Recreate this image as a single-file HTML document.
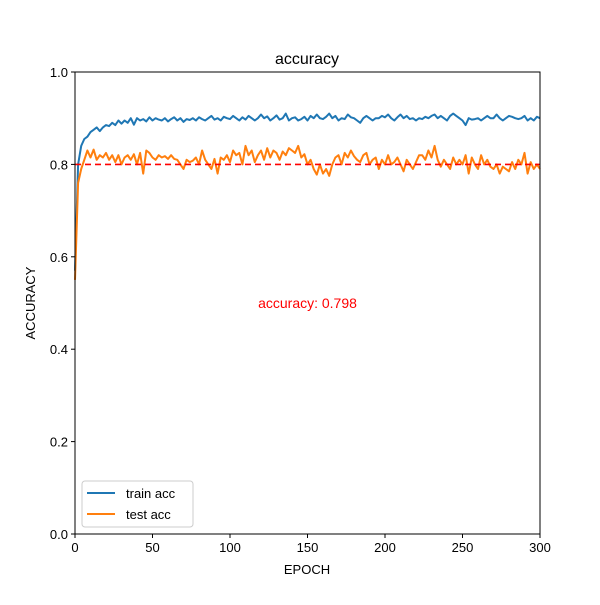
<!DOCTYPE html>
<html><head><meta charset="utf-8"><style>body{margin:0;background:#fff}svg text{font-family:"Liberation Sans","DejaVu Sans",sans-serif}</style></head>
<body>
<svg id="c" width="600" height="600"></svg>
<script>
const trainAcc=[0.57,0.80,0.84,0.855,0.86,0.87,0.875,0.88,0.872,0.88,0.885,0.883,0.89,0.885,0.895,0.888,0.895,0.89,0.9,0.886,0.9,0.895,0.898,0.893,0.902,0.895,0.9,0.897,0.895,0.9,0.893,0.898,0.902,0.895,0.9,0.892,0.898,0.896,0.9,0.895,0.902,0.898,0.895,0.9,0.905,0.897,0.9,0.895,0.903,0.9,0.898,0.905,0.9,0.895,0.902,0.897,0.905,0.9,0.895,0.9,0.908,0.9,0.904,0.895,0.9,0.906,0.897,0.9,0.91,0.895,0.9,0.902,0.895,0.898,0.903,0.895,0.905,0.9,0.908,0.9,0.898,0.903,0.91,0.9,0.905,0.895,0.9,0.898,0.908,0.902,0.9,0.895,0.89,0.9,0.905,0.9,0.895,0.9,0.9,0.905,0.902,0.908,0.9,0.895,0.902,0.908,0.9,0.905,0.898,0.9,0.895,0.9,0.898,0.903,0.9,0.905,0.908,0.9,0.905,0.9,0.895,0.905,0.91,0.905,0.9,0.895,0.885,0.9,0.897,0.898,0.9,0.895,0.9,0.905,0.9,0.9,0.908,0.9,0.895,0.9,0.905,0.903,0.9,0.898,0.9,0.905,0.895,0.9,0.895,0.903,0.9];
const testAcc=[0.55,0.76,0.79,0.81,0.83,0.815,0.832,0.81,0.82,0.815,0.825,0.81,0.82,0.805,0.82,0.8,0.815,0.82,0.81,0.822,0.8,0.825,0.78,0.83,0.825,0.815,0.81,0.82,0.815,0.818,0.812,0.82,0.812,0.81,0.8,0.79,0.81,0.805,0.808,0.815,0.8,0.83,0.81,0.8,0.79,0.812,0.78,0.815,0.81,0.82,0.805,0.83,0.82,0.825,0.8,0.84,0.82,0.83,0.805,0.82,0.83,0.81,0.835,0.815,0.83,0.825,0.81,0.828,0.82,0.835,0.83,0.825,0.84,0.815,0.822,0.8,0.81,0.79,0.778,0.8,0.78,0.79,0.775,0.8,0.815,0.82,0.8,0.825,0.815,0.83,0.818,0.81,0.805,0.82,0.825,0.8,0.81,0.815,0.79,0.81,0.8,0.82,0.8,0.805,0.815,0.8,0.785,0.81,0.8,0.79,0.805,0.82,0.82,0.81,0.83,0.815,0.84,0.81,0.795,0.81,0.8,0.79,0.815,0.8,0.81,0.8,0.82,0.78,0.815,0.8,0.79,0.82,0.8,0.81,0.795,0.79,0.8,0.78,0.795,0.79,0.785,0.805,0.79,0.81,0.8,0.825,0.78,0.805,0.79,0.8,0.79];
const xTicks=[0,50,100,150,200,250,300];
const yTicks=[0.0,0.2,0.4,0.6,0.8,1.0];
const refValue=0.8;
const accLabel="accuracy: 0.798";
const NS="http://www.w3.org/2000/svg",svg=document.getElementById('c');
const L=75,R=540,T=72,B=534;
const X=v=>L+(v/300)*(R-L), Y=v=>B-v*(B-T);
function el(t,a,txt){const e=document.createElementNS(NS,t);for(const k in a)e.setAttribute(k,a[k]);if(txt!==undefined)e.textContent=txt;svg.appendChild(e);return e;}
let e;
e=el('text',{x:307,y:64,'text-anchor':'middle','font-size':16},'accuracy');


xTicks.forEach(v=>{el('line',{x1:X(v),x2:X(v),y1:B,y2:B+4,stroke:'#000'});e=el('text',{x:X(v),y:B+18,'text-anchor':'middle','font-size':13},v);

});
yTicks.forEach(v=>{el('line',{x1:L-4,x2:L,y1:Y(v),y2:Y(v),stroke:'#000'});e=el('text',{x:L-7,y:Y(v)+5,'text-anchor':'end','font-size':13},v.toFixed(1));

});
e=el('text',{x:307,y:574,'text-anchor':'middle','font-size':13},'EPOCH');


e=el('text',{x:35,y:303,'text-anchor':'middle','font-size':13,transform:'rotate(-90 35 303)'},'ACCURACY');


function line(arr,color,name){const p=arr.map((v,i)=>X(i*300/(arr.length-1)).toFixed(1)+','+Y(v).toFixed(1)).join(' ');e=el('polyline',{points:p,fill:'none',stroke:color,'stroke-width':2,'stroke-linejoin':'round'});

}
line(trainAcc,'#1f77b4','train-acc-line');
line(testAcc,'#ff7f0e','test-acc-line');
e=el('line',{x1:L,x2:R,y1:Y(refValue),y2:Y(refValue),stroke:'#ff0000','stroke-width':1.6,'stroke-dasharray':'6,4'});


e=el('text',{x:X(150),y:Y(0.5)+5,'text-anchor':'middle','font-size':14,fill:'#ff0000'},accLabel);


e=el('rect',{x:L,y:T,width:R-L,height:B-T,fill:'none',stroke:'#000','stroke-width':1});


e=el('rect',{x:82,y:481,width:111,height:46,rx:3,fill:'#fff',stroke:'#ccc'});


[['train acc','#1f77b4',493],['test acc','#ff7f0e',514]].forEach(([t,c,y])=>{el('line',{x1:87,x2:115,y1:y,y2:y,stroke:c,'stroke-width':2});e=el('text',{x:126,y:y+5,'font-size':13},t);

});
</script>
</body></html>
